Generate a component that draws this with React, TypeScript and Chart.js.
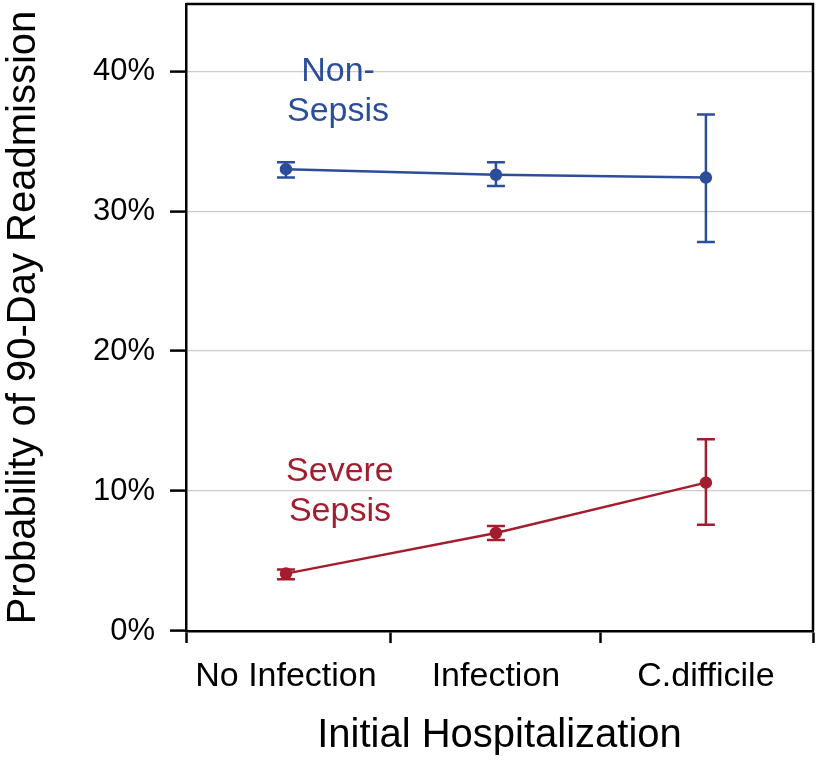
import React, { useEffect, useRef } from 'react';
import { Chart, registerables } from 'chart.js';

Chart.register(...registerables);

// ---- data ----
const categories = ['No Infection', 'Infection', 'C.difficile'];
const categoryPositions = [1, 2, 3];
const xBoundaries = [0.524, 1.5, 2.5, 3.51];

const nonSepsis = [33.0, 32.6, 32.4];
const nonSepsisLower = [32.4, 31.8, 27.8];
const nonSepsisUpper = [33.5, 33.5, 36.9];

const severeSepsis = [4.1, 7.0, 10.6];
const severeSepsisLower = [3.7, 6.5, 7.6];
const severeSepsisUpper = [4.4, 7.5, 13.7];

const yTicks = [0, 10, 20, 30, 40];
const yMax = 44.8;

const seriesNames = ['Non-Sepsis', 'Severe Sepsis'];
const seriesLabelLines = [['Non-', 'Sepsis'], ['Severe', 'Sepsis']];
const seriesLabelX = [1.248, 1.257];
const seriesLabelY = [39.96, 11.39];

const BLUE = '#2c4d9a';
const RED = '#a41d2e';
const FONT = '"Liberation Sans", Arial, Helvetica, sans-serif';

const errorBarPlugin = {
  id: 'errorBars',
  afterDatasetsDraw(chart: any) {
    const ctx = chart.ctx;
    const xs = chart.scales.x;
    const ys = chart.scales.y;
    const bounds = [
      [nonSepsisLower, nonSepsisUpper],
      [severeSepsisLower, severeSepsisUpper],
    ];
    chart.data.datasets.forEach((ds: any, di: number) => {
      const [lo, hi] = bounds[di];
      ctx.save();
      ctx.strokeStyle = ds.borderColor;
      ctx.lineWidth = 2.5;
      categoryPositions.forEach((xv, i) => {
        const px = xs.getPixelForValue(xv);
        const pl = ys.getPixelForValue(lo[i]);
        const ph = ys.getPixelForValue(hi[i]);
        ctx.beginPath();
        ctx.moveTo(px, pl);
        ctx.lineTo(px, ph);
        ctx.moveTo(px - 9, pl);
        ctx.lineTo(px + 9, pl);
        ctx.moveTo(px - 9, ph);
        ctx.lineTo(px + 9, ph);
        ctx.stroke();
      });
      ctx.restore();
    });
  },
};

const boxAndLabelsPlugin = {
  id: 'boxAndLabels',
  afterDraw(chart: any) {
    const { ctx, chartArea } = chart;
    const xs = chart.scales.x;
    const ys = chart.scales.y;
    ctx.save();
    ctx.strokeStyle = '#000';
    ctx.lineWidth = 2.5;
    ctx.beginPath();
    ctx.moveTo(chartArea.left, chartArea.top);
    ctx.lineTo(chartArea.right, chartArea.top);
    ctx.lineTo(chartArea.right, chartArea.bottom);
    ctx.stroke();
    ctx.font = `34px ${FONT}`;
    ctx.textAlign = 'center';
    ctx.textBaseline = 'middle';
    seriesLabelLines.forEach((lines, si) => {
      ctx.fillStyle = chart.data.datasets[si].borderColor;
      const px = xs.getPixelForValue(seriesLabelX[si]);
      const py = ys.getPixelForValue(seriesLabelY[si]);
      lines.forEach((t, li) => ctx.fillText(t, px, py + li * 40));
    });
    ctx.restore();
  },
};

export default function App() {
  const ref = useRef<HTMLCanvasElement | null>(null);
  useEffect(() => {
    if (!ref.current) return;
    const chart = new Chart(ref.current, {
      type: 'line',
      data: {
        datasets: [
          {
            label: seriesNames[0],
            data: categoryPositions.map((x, i) => ({ x, y: nonSepsis[i] })),
            borderColor: BLUE,
            backgroundColor: BLUE,
            pointBackgroundColor: BLUE,
            pointBorderColor: BLUE,
            borderWidth: 2.5,
            pointRadius: 5,
          },
          {
            label: seriesNames[1],
            data: categoryPositions.map((x, i) => ({ x, y: severeSepsis[i] })),
            borderColor: RED,
            backgroundColor: RED,
            pointBackgroundColor: RED,
            pointBorderColor: RED,
            borderWidth: 2.5,
            pointRadius: 5,
          },
        ],
      },
      options: {
        responsive: false,
        animation: false,
        layout: { autoPadding: false, padding: { top: 4, right: 7, left: 0, bottom: 0 } },
        plugins: { legend: { display: false }, tooltip: { enabled: false } },
        scales: {
          x: {
            type: 'linear',
            min: xBoundaries[0],
            max: xBoundaries[xBoundaries.length - 1],
            afterBuildTicks: (scale: any) => {
              const vals = [...xBoundaries, ...categoryPositions].sort((a, b) => a - b);
              scale.ticks = vals.map((v) => ({ value: v }));
            },
            afterFit: (scale: any) => {
              scale.height = 129;
              scale.paddingLeft = 0;
              scale.paddingRight = 0;
            },
            border: { display: true, color: '#000', width: 2.5 },
            grid: {
              drawOnChartArea: false,
              drawTicks: true,
              tickLength: 12,
              tickWidth: 2.5,
              color: 'rgba(0,0,0,0)',
              tickColor: (c: any) =>
                c.tick && xBoundaries.includes(c.tick.value) ? '#000' : 'rgba(0,0,0,0)',
            },
            ticks: {
              autoSkip: false,
              maxRotation: 0,
              padding: 13,
              color: '#000',
              font: { family: FONT, size: 34 },
              callback: (v: any) => {
                const idx = categoryPositions.indexOf(v);
                return idx >= 0 ? categories[idx] : '';
              },
            },
            title: {
              display: true,
              text: 'Initial Hospitalization',
              color: '#000',
              font: { family: FONT, size: 40 },
              padding: 0,
            },
          },
          y: {
            type: 'linear',
            min: 0,
            max: yMax,
            afterBuildTicks: (scale: any) => {
              scale.ticks = yTicks.map((v) => ({ value: v }));
            },
            afterFit: (scale: any) => {
              scale.width = 186;
              scale.paddingTop = 0;
              scale.paddingBottom = 0;
            },
            border: { display: true, color: '#000', width: 2.5 },
            grid: {
              drawTicks: true,
              tickLength: 16,
              tickWidth: 2.5,
              tickColor: '#000',
              lineWidth: 1.2,
              color: (c: any) => (c.tick && c.tick.value === 0 ? 'rgba(0,0,0,0)' : '#cccccc'),
            },
            ticks: {
              padding: 15,
              color: '#000',
              font: { family: FONT, size: 31 },
              callback: (v: any) => `${v}%`,
            },
            title: {
              display: true,
              text: 'Probability of 90-Day Readmission',
              color: '#000',
              font: { family: FONT, size: 40 },
              padding: 0,
            },
          },
        },
      },
      plugins: [errorBarPlugin, boxAndLabelsPlugin],
    } as any);
    return () => chart.destroy();
  }, []);
  return (
    <div style={{ position: 'absolute', left: 0, top: 0, width: 820, height: 760, background: '#fff' }}>
      <canvas ref={ref} width={820} height={760} />
    </div>
  );
}
